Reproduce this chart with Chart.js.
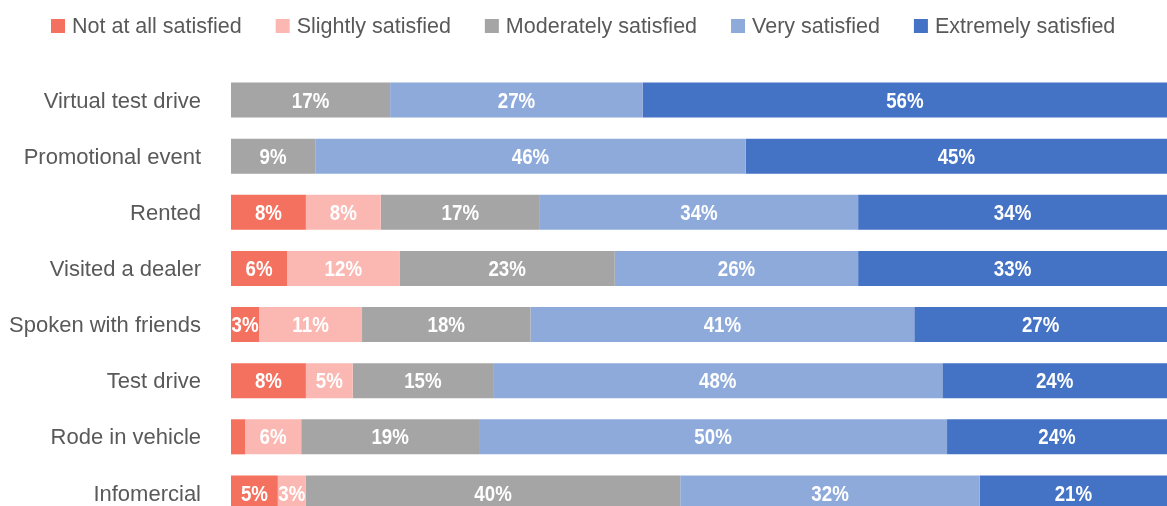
<!DOCTYPE html>
<html>
<head>
<meta charset="utf-8">
<script src="https://cdn.jsdelivr.net/npm/chart.js@4.4.1/dist/chart.umd.min.js"></script>
<style>
  html, body { margin: 0; padding: 0; background: #fff; overflow: hidden; }
  canvas { display: block; }
</style>
</head>
<body>
<canvas id="c" width="1167" height="521"></canvas>
<script>
// Survey: satisfaction with each car-shopping activity (percent of respondents)
const categories = ['Virtual test drive', 'Promotional event', 'Rented', 'Visited a dealer',
                    'Spoken with friends', 'Test drive', 'Rode in vehicle', 'Infomercial'];
const seriesNames = ['Not at all satisfied', 'Slightly satisfied', 'Moderately satisfied',
                     'Very satisfied', 'Extremely satisfied'];
const notAtAll   = [null, null, 8, 6, 3, 8, 1.5, 5];
const slightly   = [null, null, 8, 12, 11, 5, 6, 3];
const moderately = [17, 9, 17, 23, 18, 15, 19, 40];
const very       = [27, 46, 34, 26, 41, 48, 50, 32];
const extremely  = [56, 45, 34, 33, 27, 24, 24, 21];
const seriesColors = ['#F4715F', '#FBB8B2', '#A5A5A5', '#8EAADB', '#4472C4'];

const FONT = "'Liberation Sans', Arial, sans-serif";
const TEXT_GRAY = '#595959';

// Legend drawn across the top: square swatch + name, centred as a row
const topLegend = {
  id: 'topLegend',
  afterDraw(chart) {
    const ctx = chart.ctx;
    const box = 14, gap = 7, spacing = 34, boxCy = 26, textCy = 27;
    ctx.save();
    ctx.font = `21.5px ${FONT}`;
    ctx.textBaseline = 'middle';
    ctx.textAlign = 'left';
    const items = chart.data.datasets.map(ds => ({
      text: ds.label, color: ds.backgroundColor, w: ctx.measureText(ds.label).width
    }));
    const total = items.reduce((s, it) => s + box + gap + it.w, 0) + spacing * (items.length - 1);
    let x = Math.round((chart.width - total) / 2);
    items.forEach(it => {
      ctx.fillStyle = it.color;
      ctx.fillRect(x, boxCy - box / 2, box, box);
      ctx.fillStyle = TEXT_GRAY;
      ctx.fillText(it.text, x + box + gap, textCy);
      x += box + gap + it.w + spacing;
    });
    ctx.restore();
  }
};

// White percentage labels centred in each segment, in a condensed bold face;
// shortened with an ellipsis when the segment is too narrow
const segmentLabels = {
  id: 'segmentLabels',
  afterDatasetsDraw(chart) {
    const ctx = chart.ctx;
    const area = chart.chartArea;
    const sx = 0.85;
    ctx.save();
    ctx.font = `bold 22px ${FONT}`;
    ctx.fillStyle = '#ffffff';
    ctx.textAlign = 'center';
    ctx.textBaseline = 'middle';
    const width = t => ctx.measureText(t).width * sx;
    chart.data.datasets.forEach((ds, i) => {
      const meta = chart.getDatasetMeta(i);
      meta.data.forEach((bar, j) => {
        const v = ds.data[j];
        if (!v) return;
        const left = Math.max(Math.min(bar.x, bar.base), area.left);
        const right = Math.min(Math.max(bar.x, bar.base), area.right);
        const w = right - left;
        let text = Math.round(v) + '%';
        if (width(text) > w + 1) {
          let core = text.slice(0, -1);
          text = null;
          while (core.length > 0) {
            const t = core + '…';
            if (width(t) <= w + 2) { text = t; break; }
            core = core.slice(0, -1);
          }
          if (!text) return;
        }
        const cx = (left + right) / 2;
        ctx.save();
        ctx.translate(cx, bar.y + 1.5);
        ctx.scale(sx, 1);
        ctx.fillText(text, 0, 0);
        ctx.restore();
      });
    });
    ctx.restore();
  }
};

const seriesData = [notAtAll, slightly, moderately, very, extremely];

new Chart(document.getElementById('c'), {
  type: 'bar',
  data: {
    labels: categories,
    datasets: seriesNames.map((name, i) => ({
      label: name,
      data: seriesData[i],
      backgroundColor: seriesColors[i],
      borderWidth: 0,
      barPercentage: 0.625,
      categoryPercentage: 1
    }))
  },
  options: {
    indexAxis: 'y',
    responsive: false,
    animation: false,
    layout: { padding: { top: 72, left: 0, right: 0, bottom: 0 } },
    scales: {
      x: { stacked: true, min: 0, max: 100, display: false },
      y: {
        stacked: true,
        grid: { display: false, drawTicks: false },
        border: { display: false },
        ticks: { color: TEXT_GRAY, font: { family: FONT, size: 22 }, padding: 30, labelOffset: 1.5 },
        afterFit(scale) {
          scale.width = 231;
          // category rows run edge to edge; no extra room above/below for the labels
          scale.paddingTop = 0;
          scale.paddingBottom = 0;
        }
      }
    },
    plugins: { legend: { display: false }, tooltip: { enabled: false } }
  },
  plugins: [topLegend, segmentLabels]
});
</script>
</body>
</html>
